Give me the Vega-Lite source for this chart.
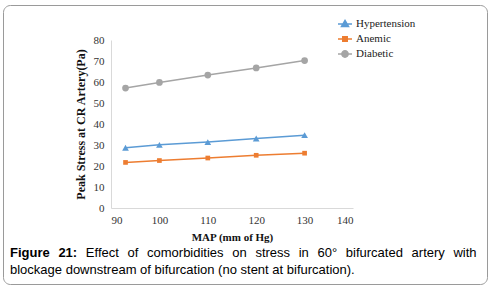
{
  "$schema": "https://vega.github.io/schema/vega-lite/v6.json",
  "width": 484,
  "height": 279,
  "autosize": {"type": "none"},
  "padding": {"left": 3, "top": 5, "right": 5, "bottom": 8},
  "background": "white",
  "config": {
    "view": {"stroke": "#9a9a9a", "strokeWidth": 1, "cornerRadius": 7},
    "axis": {
      "domainColor": "#d9d9d9",
      "grid": false,
      "ticks": false,
      "labelFont": "Liberation Serif",
      "labelFontSize": 11,
      "labelColor": "#333333",
      "titleFont": "Liberation Serif",
      "titleFontSize": 11,
      "titleFontWeight": "bold",
      "titleColor": "#111111"
    }
  },
  "title": {
    "text": "Figure\u2002\u200621:",
    "subtitle": [
      "\u200b\u2003\u2003\u2003\u2003\u2003\u2002\u2004Effect\u2002\u2006of\u2002\u2006comorbidities\u2002\u2006on\u2002\u2006stress\u2002\u2006in\u2002\u200660°\u2002\u2006bifurcated\u2002\u2006artery\u2002\u2006with",
      "blockage downstream of bifurcation (no stent at bifurcation)."
    ],
    "orient": "bottom",
    "anchor": "start",
    "frame": "group",
    "offset": -37,
    "dx": 7,
    "font": "Liberation Sans",
    "fontSize": 13,
    "fontWeight": "bold",
    "color": "#000000",
    "subtitleFont": "Liberation Sans",
    "subtitleFontSize": 13,
    "subtitleFontWeight": "normal",
    "subtitleColor": "#000000",
    "subtitleLineHeight": 17,
    "subtitlePadding": -13
  },
  "data": {
    "values": [
      {"map": 93, "stress": 28.7, "series": "Hypertension"},
      {"map": 100, "stress": 30.1, "series": "Hypertension"},
      {"map": 110, "stress": 31.4, "series": "Hypertension"},
      {"map": 120, "stress": 33.1, "series": "Hypertension"},
      {"map": 130, "stress": 34.7, "series": "Hypertension"},
      {"map": 93, "stress": 21.7, "series": "Anemic"},
      {"map": 100, "stress": 22.6, "series": "Anemic"},
      {"map": 110, "stress": 23.8, "series": "Anemic"},
      {"map": 120, "stress": 25.1, "series": "Anemic"},
      {"map": 130, "stress": 26.1, "series": "Anemic"},
      {"map": 93, "stress": 57.1, "series": "Diabetic"},
      {"map": 100, "stress": 59.8, "series": "Diabetic"},
      {"map": 110, "stress": 63.3, "series": "Diabetic"},
      {"map": 120, "stress": 66.7, "series": "Diabetic"},
      {"map": 130, "stress": 70.2, "series": "Diabetic"}
    ]
  },
  "encoding": {
    "x": {
      "field": "map",
      "type": "quantitative",
      "scale": {"domain": [90, 140], "range": [108, 350], "nice": false, "zero": false},
      "axis": {"title": "MAP (mm of  Hg)", "values": [90, 100, 110, 120, 130, 140], "offset": -76, "labelPadding": 6, "titlePadding": 6}
    },
    "y": {
      "field": "stress",
      "type": "quantitative",
      "scale": {"domain": [0, 80], "range": [203, 35], "nice": false},
      "axis": {"title": "Peak Stress at CR Artery(Pa)", "titleFontSize": 12, "titleY": 119, "titleAlign": "center", "values": [0, 10, 20, 30, 40, 50, 60, 70, 80], "offset": -108, "labelPadding": 7, "titlePadding": 6}
    }
  },
  "layer": [
    {
      "mark": {"type": "point", "filled": true, "opacity": 1, "strokeWidth": 1.5, "size": 0},
      "encoding": {
        "fill": {
          "field": "series",
          "type": "nominal",
          "scale": {"domain": ["Hypertension", "Anemic", "Diabetic"], "range": ["#5b9bd5", "#ed7d31", "#a5a5a5"]},
          "legend": {
            "title": null,
            "orient": "none",
            "legendX": 334,
            "legendY": 11,
            "padding": 0,
            "symbolSize": 196,
            "symbolStrokeWidth": 1.5,
            "labelFont": "Liberation Serif",
            "labelFontSize": 11,
            "labelColor": "#222222",
            "labelOffset": 3,
            "rowPadding": 1,
            "symbolOffset": 0
          }
        },
        "stroke": {
          "field": "series",
          "type": "nominal",
          "scale": {"domain": ["Hypertension", "Anemic", "Diabetic"], "range": ["#5b9bd5", "#ed7d31", "#a5a5a5"]}
        },
        "shape": {
          "field": "series",
          "type": "nominal",
          "scale": {
            "domain": ["Hypertension", "Anemic", "Diabetic"],
            "range": [
              "M-1,0H1M0,-0.5L0.5,0.36L-0.5,0.36Z",
              "M-1,0H1M-0.32,-0.32H0.32V0.32H-0.32Z",
              "M-1,0H1M0.45,0A0.45,0.45 0 1 1 -0.45,0A0.45,0.45 0 1 1 0.45,0Z"
            ]
          }
        }
      }
    },
    {
      "mark": {"type": "line", "strokeWidth": 1.5},
      "encoding": {
        "color": {
          "field": "series",
          "type": "nominal",
          "scale": {"domain": ["Hypertension", "Anemic", "Diabetic"], "range": ["#5b9bd5", "#ed7d31", "#a5a5a5"]},
          "legend": null
        }
      }
    },
    {
      "transform": [{"filter": "datum.series == 'Hypertension'"}],
      "mark": {"type": "point", "shape": "triangle-up", "filled": true, "opacity": 1, "size": 45},
      "encoding": {"color": {"field": "series", "type": "nominal", "legend": null}}
    },
    {
      "transform": [{"filter": "datum.series == 'Anemic'"}],
      "mark": {"type": "point", "shape": "square", "filled": true, "opacity": 1, "size": 22},
      "encoding": {"color": {"field": "series", "type": "nominal", "legend": null}}
    },
    {
      "transform": [{"filter": "datum.series == 'Diabetic'"}],
      "mark": {"type": "point", "shape": "circle", "filled": true, "opacity": 1, "size": 45},
      "encoding": {"color": {"field": "series", "type": "nominal", "legend": null}}
    }
  ]
}
